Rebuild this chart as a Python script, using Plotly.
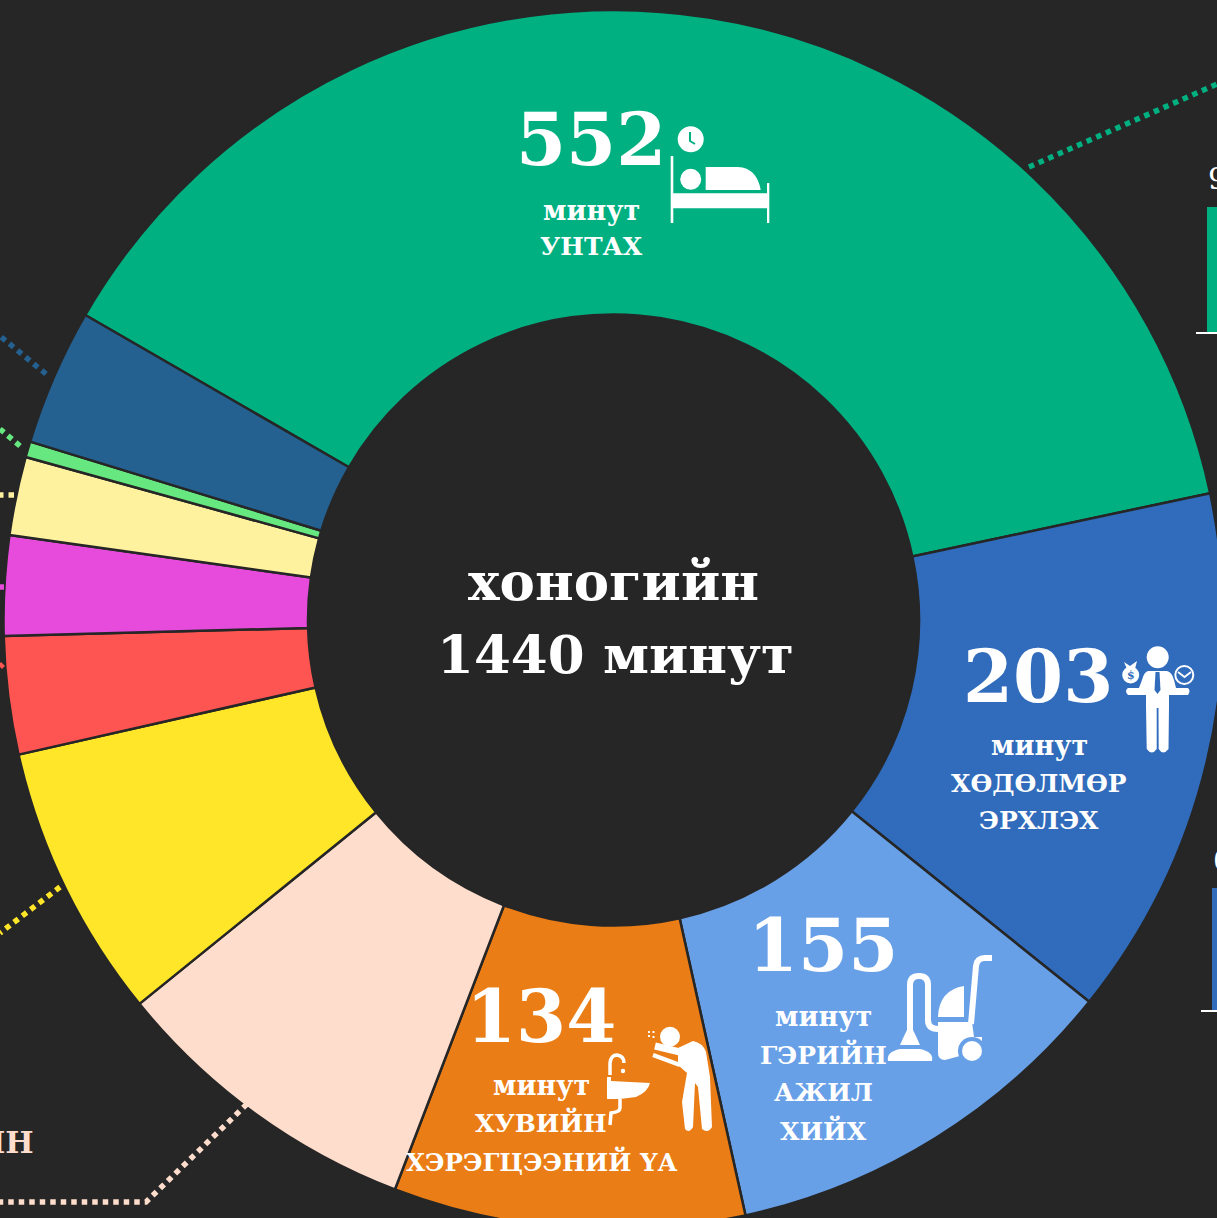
import re
import plotly.graph_objects as go

# ---------- data ----------
categories = ["Унтах", "Хөдөлмөр эрхлэх", "Гэрийн ажил хийх", "Хувийн хэрэгцээний үйл ажиллагаа",
              "Ангилал 5", "Ангилал 6", "Ангилал 7", "Ангилал 8", "Ангилал 9", "Ангилал 10", "Ангилал 11"]
minutes = [552, 203, 155, 134, 120, 105, 45, 38, 30, 6, 52]
colors = ["#00B081", "#306CBB", "#68A0E8", "#EA7D16", "#FFDDCC", "#FFE629",
          "#FF5552", "#E64BDC", "#FFF29F", "#66E77F", "#246090"]
BG = "#262626"
WHITE = "#FFFFFF"
SERIF = "DejaVu Serif"

W, H = 1300, 1300
CX, CY, R = 613.5, 620, 610


def px(x):
    return x / W


def py(y):
    return 1 - y / H


def conv_path(d):
    toks = re.findall(r"[MLQCZ]|-?\d+\.?\d*", d)
    out, is_x = [], True
    for t in toks:
        if t in "MLQCZ":
            out.append(t)
            is_x = True
        else:
            out.append(f"{px(float(t)):.5f}" if is_x else f"{py(float(t)):.5f}")
            is_x = not is_x
    return " ".join(out)


shapes, ann = [], []


def fill(d, color=WHITE):
    shapes.append(dict(type="path", path=conv_path(d), xref="paper", yref="paper",
                       fillcolor=color, line=dict(width=0)))


def stroke(d, width, color=WHITE, dash=None):
    line = dict(width=width, color=color)
    if dash:
        line["dash"] = dash
    shapes.append(dict(type="path", path=conv_path(d), xref="paper", yref="paper",
                       line=line))


def circle(x, y, r, color=WHITE, lw=0, lc=None, nofill=False):
    s = dict(type="circle", xref="paper", yref="paper",
             x0=px(x - r), x1=px(x + r), y0=py(y + r), y1=py(y - r),
             line=dict(width=lw, color=lc or color))
    if not nofill:
        s["fillcolor"] = color
    shapes.append(s)


def text(x, y, s, size, color=WHITE, anchor="center", weight="bold"):
    ann.append(dict(x=px(x), y=py(y), xref="paper", yref="paper", text=s, showarrow=False,
                    xanchor=anchor, yanchor="middle",
                    font=dict(family=SERIF, size=size, color=color, weight=weight)))


# ---------- dotted leader lines ----------
DOT = "5.5px,5px"
stroke("M1029 167 L1217 84", 5.5, colors[0], DOT)
stroke("M46 374 L0 336", 5.5, colors[10], DOT)
stroke("M20 446 L0 429", 5.5, colors[9], DOT)
stroke("M14 495 L0 495", 5.5, colors[8], DOT)
stroke("M4 587 L0 587", 5.5, colors[7], DOT)
stroke("M3 664 L0 667", 5.5, colors[6], DOT)
stroke("M60 887 L0 933", 5.5, colors[5], DOT)
stroke("M247 1104 L146 1202 L0 1202", 5.5, colors[4], DOT)

# ---------- cropped side bars ----------
fill("M1207 207 L1218 207 L1218 332 L1207 332 Z", colors[0])
fill("M1196 332 L1218 332 L1218 334 L1196 334 Z")
fill("M1212 888 L1218 888 L1218 1010 L1212 1010 Z", colors[1])
fill("M1201 1010 L1218 1010 L1218 1012 L1201 1012 Z")

# ---------- bed icon ----------
circle(690.7, 139.3, 13)
stroke("M690 132 L690 141 L695 144", 2, colors[0])
fill("M670.7 156 L673.3 156 L673.3 193.3 L767 193.3 L767 183 L769.3 183 L769.3 223 L767 223 "
     "L767 208.3 L673.3 208.3 L673.3 223 L670.7 223 Z")
circle(690.7, 179.3, 10.5)
fill("M705.7 190 L705.7 167 L738 167 Q757 168 760.7 190 Z")

# ---------- worker icon ----------
circle(1157.7, 657.3, 11)
fill("M1148 671 L1167 671 Q1172 672 1174 680 L1176 688 L1188 688 Q1191 691 1188 695 L1172 695 "
     "L1169 695 L1169 706 L1168.5 749 Q1163 756 1158.7 749 L1158.5 708 L1156.7 708 L1156.7 749 "
     "Q1152 756 1146.7 749 L1146 706 L1146 695 L1128 695 Q1124 691 1128 688 L1139 688 L1142 680 "
     "Q1144 672 1148 671 Z")
fill("M1155.5 672 L1159.5 672 L1160.5 690 L1157.5 694 L1154.5 690 Z", colors[1])
circle(1130.7, 675, 8.5)
fill("M1124 662 L1130 666 L1137 661 L1135 669 L1127 669 Z")
text(1130.7, 675.5, "$", 11, colors[1])
circle(1184.3, 675, 9, colors[1], lw=2, lc=WHITE, nofill=True)
stroke("M1178 672 L1184.5 677 L1191 672", 1.8)

# ---------- vacuum icon ----------
fill("M888 1061 Q886 1052 900 1049 L920 1049 Q934 1052 932 1061 Z")
fill("M900 1045 Q904 1036 907 1030 L913 1030 Q916 1036 920 1045 Z")
stroke("M910 1032 L910 985 Q910 976 919 976 Q928 976 928 985 L928 1020 Q928 1029 938 1029", 6)
fill("M938 1017 Q939 990 964 986 L964 1017 Z")
fill("M938 1022 L972 1022 L974 1037 L982 1037 L982 1050 L945 1060 Q938 1060 938 1053 Z")
stroke("M971 1024 L976 966 Q977 958 985 958 L992 958", 6)
circle(972, 1051, 14, colors[2])
circle(972, 1051, 10)

# ---------- washing icon ----------
circle(670, 1036.7, 10)
for dx, dy, s in [(648, 1031, 2), (652.5, 1031, 2), (648, 1035, 2), (652.5, 1036, 2)]:
    fill(f"M{dx} {dy} L{dx+s} {dy} L{dx+s} {dy+s} L{dx} {dy+s} Z")
fill("M678 1048 L693 1041 Q703 1043 706 1052 L710 1077 L712 1127 Q708 1134 702 1129 L698 1087 "
     "L695 1083 L693 1127 Q689 1134 685 1129 L682 1102 L687 1073 L678 1065 Z")
stroke("M655 1046 L680 1052", 7)
stroke("M653 1055 L680 1065", 4.5)
stroke("M610 1075 L610 1063 Q611 1055 617 1055 Q624 1056 624 1063", 3.5)
circle(623, 1071, 2.2)
fill("M607 1077 L611 1077 L611 1081 L650 1083 Q648 1092 636 1097 L620 1099 L607 1099 Z")
stroke("M620 1099 L620 1108 Q620 1112 611 1113 L610 1125", 3.5)

# ---------- pie ----------
pie = go.Pie(
    labels=categories, values=minutes, sort=False, direction="clockwise", rotation=300,
    hole=305.5 / R, textinfo="none", hoverinfo="label+value", showlegend=False,
    marker=dict(colors=colors, line=dict(color=BG, width=2.5)),
    domain=dict(x=[px(CX - R), px(CX + R)], y=[py(CY + R), py(CY - R)]),
)

# ---------- text ----------
NUM, MIN, LBL = 72, 27, 25
text(591, 139.5, "552", NUM)
text(591, 211, "минут", MIN)
text(591, 247, "УНТАХ", LBL)
text(1038, 676, "203", NUM)
text(1039, 745, "минут", MIN)
text(1039, 783, "ХӨДӨЛМӨР", LBL)
text(1039, 821, "ЭРХЛЭХ", LBL)
text(823, 945.5, "155", NUM)
text(823, 1016, "минут", MIN)
text(823, 1054, "ГЭРИЙН", LBL)
text(823, 1092, "АЖИЛ", LBL)
text(823, 1130, "ХИЙХ", LBL)
text(541, 1016.5, "134", NUM)
text(541, 1085, "минут", MIN)
text(541, 1122, "ХУВИЙН", LBL)
text(541, 1161, "ХЭРЭГЦЭЭНИЙ ҮА", 24.5)
text(613, 581, "хоногийн", 53)
text(615, 653.5, "1440 минут", 53)
text(36, 1141, "ЙН", 30, colors[4], anchor="right")
text(1206, 178, "9", 30, anchor="left", weight="normal")
text(1211, 860, "0", 30, anchor="left", weight="normal")

fig = go.Figure(pie)
fig.update_layout(width=W, height=H, margin=dict(l=0, r=0, t=0, b=0), autosize=False,
                  paper_bgcolor=BG, plot_bgcolor=BG, shapes=shapes, annotations=ann,
                  font=dict(family=SERIF))
reset = ("document.documentElement.style.background='#262626';"
         "document.documentElement.style.overflow='hidden';"
         "document.body.style.background='#262626';"
         "document.body.style.overflow='hidden';"
         "document.body.style.margin='0';")
fig.write_html("out.html", config=dict(displayModeBar=False), post_script=reset)
